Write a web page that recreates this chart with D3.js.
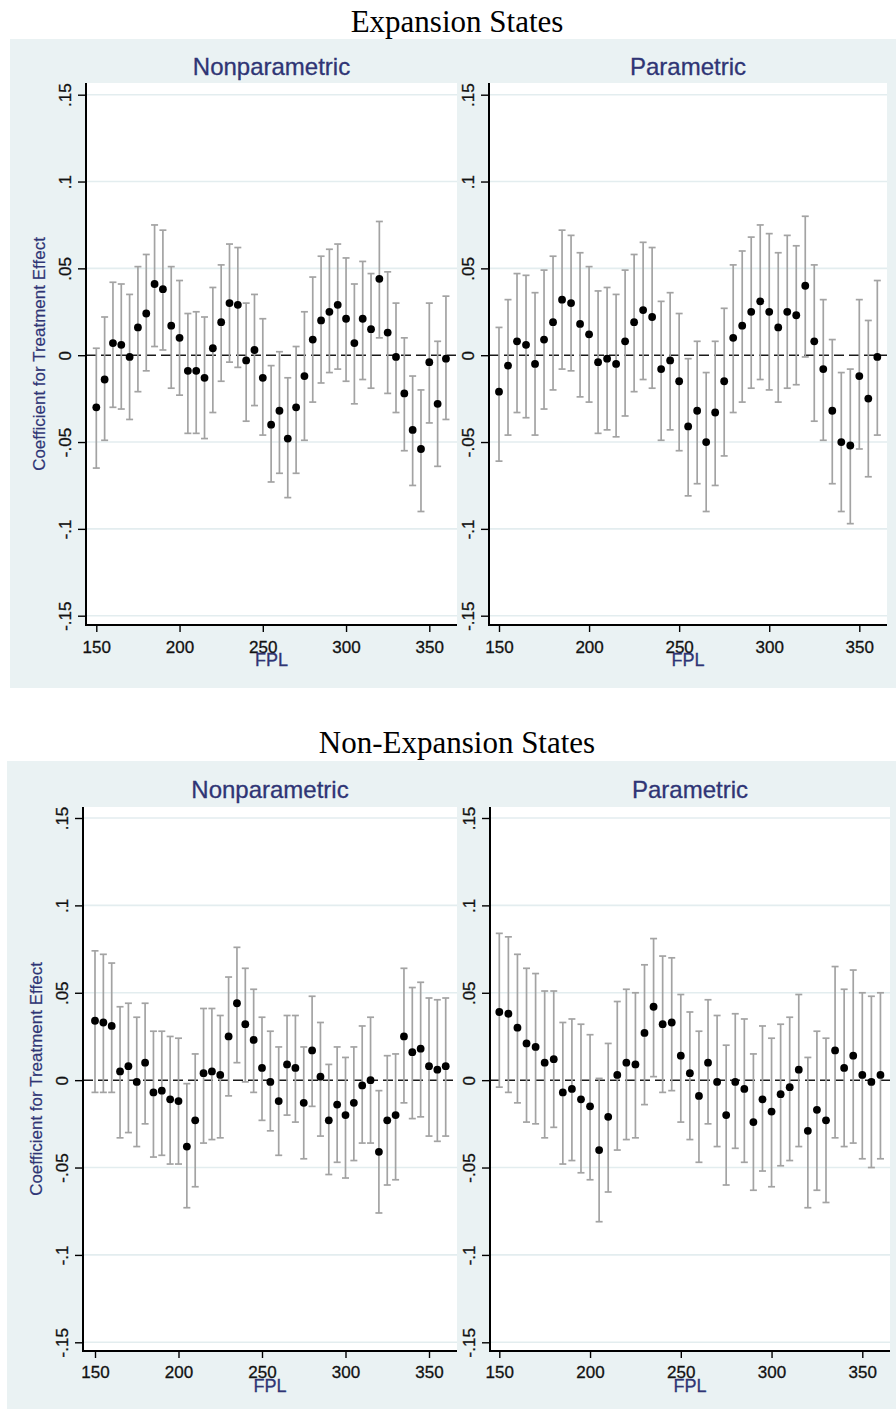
<!DOCTYPE html>
<html>
<head>
<meta charset="utf-8">
<script src="https://cdn.jsdelivr.net/npm/d3@7"></script>
<style>
  body { margin: 0; background: #fff; }
</style>
</head>
<body>
<div id="chart-area"></div>
<script>
// FPL bins (x categories)
var fpl = [150, 155, 160, 165, 170, 175, 180, 185, 190, 195, 200, 205, 210, 215, 220,
  225, 230, 235, 240, 245, 250, 255, 260, 265, 270, 275, 280, 285, 290, 295,
  300, 305, 310, 315, 320, 325, 330, 335, 340, 345, 350, 355, 360];

// Expansion states, nonparametric
var expNpEst = [-0.030, -0.014, 0.007, 0.006, -0.001, 0.016, 0.024, 0.041, 0.038, 0.017, 0.010, -0.009, -0.009, -0.013, 0.004,
  0.019, 0.030, 0.029, -0.003, 0.003, -0.013, -0.040, -0.032, -0.048, -0.030, -0.012, 0.009, 0.020, 0.025, 0.029,
  0.021, 0.007, 0.021, 0.015, 0.044, 0.013, -0.001, -0.022, -0.043, -0.054, -0.004, -0.028, -0.002];
var expNpLo = [-0.065, -0.049, -0.030, -0.031, -0.037, -0.021, -0.009, 0.005, 0.003, -0.019, -0.023, -0.045, -0.045, -0.048, -0.033,
  -0.015, -0.004, -0.007, -0.038, -0.029, -0.046, -0.073, -0.068, -0.082, -0.068, -0.049, -0.027, -0.016, -0.010, -0.008,
  -0.015, -0.028, -0.014, -0.019, 0.010, -0.022, -0.033, -0.055, -0.075, -0.090, -0.039, -0.064, -0.037];
var expNpHi = [0.004, 0.022, 0.042, 0.041, 0.035, 0.051, 0.058, 0.075, 0.072, 0.051, 0.043, 0.024, 0.025, 0.022, 0.039,
  0.052, 0.064, 0.062, 0.030, 0.035, 0.021, -0.006, 0.002, -0.013, 0.005, 0.025, 0.045, 0.057, 0.061, 0.064,
  0.056, 0.041, 0.054, 0.047, 0.077, 0.048, 0.030, 0.010, -0.012, -0.020, 0.030, 0.008, 0.034];

// Expansion states, parametric
var expPEst = [-0.021, -0.006, 0.008, 0.006, -0.005, 0.009, 0.019, 0.032, 0.030, 0.018, 0.012, -0.004, -0.002, -0.005, 0.008,
  0.019, 0.026, 0.022, -0.008, -0.003, -0.015, -0.041, -0.032, -0.050, -0.033, -0.015, 0.010, 0.017, 0.025, 0.031,
  0.025, 0.016, 0.025, 0.023, 0.040, 0.008, -0.008, -0.032, -0.050, -0.052, -0.012, -0.025, -0.001];
var expPLo = [-0.061, -0.046, -0.033, -0.036, -0.046, -0.031, -0.020, -0.008, -0.009, -0.024, -0.027, -0.045, -0.043, -0.047, -0.035,
  -0.021, -0.014, -0.019, -0.049, -0.043, -0.055, -0.081, -0.074, -0.090, -0.075, -0.058, -0.033, -0.027, -0.019, -0.014,
  -0.020, -0.027, -0.019, -0.017, -0.001, -0.038, -0.049, -0.074, -0.090, -0.097, -0.054, -0.070, -0.046];
var expPHi = [0.016, 0.032, 0.047, 0.046, 0.036, 0.049, 0.057, 0.072, 0.069, 0.059, 0.051, 0.037, 0.039, 0.035, 0.049,
  0.058, 0.065, 0.062, 0.031, 0.036, 0.024, -0.002, 0.008, -0.010, 0.008, 0.027, 0.052, 0.060, 0.068, 0.075,
  0.070, 0.059, 0.069, 0.063, 0.080, 0.052, 0.032, 0.009, -0.010, -0.008, 0.032, 0.020, 0.043];

// Non-expansion states, nonparametric
var nonNpEst = [0.034, 0.033, 0.031, 0.005, 0.008, -0.001, 0.010, -0.007, -0.006, -0.011, -0.012, -0.038, -0.023, 0.004, 0.005,
  0.003, 0.025, 0.044, 0.032, 0.023, 0.007, -0.001, -0.012, 0.009, 0.007, -0.013, 0.017, 0.002, -0.023, -0.014,
  -0.020, -0.013, -0.003, 0.000, -0.041, -0.023, -0.020, 0.025, 0.016, 0.018, 0.008, 0.006, 0.008];
var nonNpLo = [-0.007, -0.007, -0.007, -0.033, -0.030, -0.038, -0.025, -0.044, -0.043, -0.048, -0.048, -0.073, -0.061, -0.036, -0.034,
  -0.033, -0.009, 0.010, -0.001, -0.007, -0.023, -0.029, -0.043, -0.020, -0.024, -0.045, -0.015, -0.032, -0.054, -0.047,
  -0.056, -0.046, -0.036, -0.036, -0.076, -0.060, -0.057, -0.013, -0.022, -0.021, -0.032, -0.035, -0.032];
var nonNpHi = [0.074, 0.072, 0.067, 0.042, 0.044, 0.036, 0.044, 0.028, 0.028, 0.025, 0.024, -0.002, 0.015, 0.041, 0.041,
  0.037, 0.059, 0.076, 0.064, 0.052, 0.036, 0.028, 0.019, 0.037, 0.037, 0.019, 0.048, 0.033, 0.009, 0.019,
  0.013, 0.019, 0.031, 0.036, -0.006, 0.014, 0.015, 0.064, 0.053, 0.056, 0.047, 0.046, 0.047];

// Non-expansion states, parametric
var nonPEst = [0.039, 0.038, 0.030, 0.021, 0.019, 0.010, 0.012, -0.007, -0.005, -0.011, -0.015, -0.040, -0.021, 0.003, 0.010,
  0.009, 0.027, 0.042, 0.032, 0.033, 0.014, 0.004, -0.009, 0.010, -0.001, -0.020, -0.001, -0.005, -0.024, -0.011,
  -0.018, -0.008, -0.004, 0.006, -0.029, -0.017, -0.023, 0.017, 0.007, 0.014, 0.003, -0.001, 0.003];
var nonPLo = [-0.004, -0.007, -0.013, -0.024, -0.025, -0.033, -0.027, -0.048, -0.046, -0.053, -0.057, -0.081, -0.064, -0.040, -0.034,
  -0.033, -0.014, 0.002, -0.007, -0.006, -0.024, -0.034, -0.047, -0.025, -0.038, -0.060, -0.039, -0.047, -0.063, -0.052,
  -0.061, -0.049, -0.046, -0.038, -0.073, -0.063, -0.070, -0.033, -0.038, -0.036, -0.045, -0.050, -0.045];
var nonPHi = [0.084, 0.082, 0.072, 0.064, 0.061, 0.051, 0.051, 0.033, 0.035, 0.032, 0.026, 0.001, 0.021, 0.045, 0.052,
  0.050, 0.066, 0.081, 0.071, 0.070, 0.049, 0.039, 0.028, 0.046, 0.037, 0.020, 0.038, 0.035, 0.015, 0.031,
  0.024, 0.032, 0.036, 0.049, 0.013, 0.028, 0.024, 0.065, 0.052, 0.063, 0.050, 0.048, 0.050];

// ticks
var xTicks = [150, 200, 250, 300, 350];
var yTicks = [-0.15, -0.1, -0.05, 0, 0.05, 0.1, 0.15];
var yTickLabels = ["-.15", "-.1", "-.05", "0", ".05", ".1", ".15"];

var sans = "'Liberation Sans', Arial, sans-serif";
var serif = "'Liberation Serif', 'Times New Roman', serif";
var navy = "#2f3575";

var svg = d3.select("#chart-area").append("svg")
    .attr("width", 896)
    .attr("height", 1409);

// layout of the two stata figures
var figures = [
  {
    title: "Expansion States", titleY: 32,
    bgX: 10, bgY: 39, bgBottom: 688,
    top: 83, bottom: 625, yHi: 94.7, yLo: 615.7,
    subY: 75, labelY: 653, fplY: 666,
    panels: [
      {name: "Nonparametric", est: expNpEst, lo: expNpLo, hi: expNpHi, left: 86, right: 457, x150: 96.3, x350: 429.3, yTitle: true},
      {name: "Parametric", est: expPEst, lo: expPLo, hi: expPHi, left: 489, right: 887, x150: 499, x350: 859.3, yTitle: false}
    ]
  },
  {
    title: "Non-Expansion States", titleY: 753,
    bgX: 7, bgY: 761, bgBottom: 1409,
    top: 807, bottom: 1351, yHi: 818, yLo: 1342.3,
    subY: 798, labelY: 1378, fplY: 1392,
    panels: [
      {name: "Nonparametric", est: nonNpEst, lo: nonNpLo, hi: nonNpHi, left: 83, right: 457, x150: 95, x350: 429, yTitle: true},
      {name: "Parametric", est: nonPEst, lo: nonPLo, hi: nonPHi, left: 490, right: 890, x150: 499.3, x350: 862.3, yTitle: false}
    ]
  }
];

figures.forEach(function(fig) {
  svg.append("rect")
    .attr("x", fig.bgX)
    .attr("y", fig.bgY)
    .attr("width", 896 - fig.bgX)
    .attr("height", fig.bgBottom - fig.bgY)
    .attr("fill", "#eaf2f3");

  svg.append("text")
    .attr("x", 457)
    .attr("y", fig.titleY)
    .attr("text-anchor", "middle")
    .attr("font-family", serif)
    .attr("font-size", "31px")
    .attr("fill", "#000")
    .text(fig.title);

  fig.panels.forEach(function(p) {
    drawPanel(fig, p);
  });
});

function drawPanel(fig, p) {
  var x = d3.scaleLinear()
    .domain([150, 350])
    .range([p.x150, p.x350]);

  var y = d3.scaleLinear()
    .domain([-0.15, 0.15])
    .range([fig.yLo, fig.yHi]);

  var g = svg.append("g");
  var cx = (p.left + p.right) / 2;

  // plot region
  g.append("rect")
    .attr("x", p.left)
    .attr("y", fig.top)
    .attr("width", p.right - p.left)
    .attr("height", fig.bottom - fig.top)
    .attr("fill", "#fff");

  // subtitle
  g.append("text")
    .attr("x", cx)
    .attr("y", fig.subY)
    .attr("text-anchor", "middle")
    .attr("font-family", sans)
    .attr("font-size", "24px")
    .attr("fill", navy)
    .attr("stroke", navy)
    .attr("stroke-width", 0.3)
    .text(p.name);

  // grid lines
  g.selectAll("line.grid")
    .data(yTicks.filter(d => d !== 0))
    .enter().append("line")
      .attr("class", "grid")
      .attr("x1", p.left)
      .attr("x2", p.right)
      .attr("y1", d => y(d))
      .attr("y2", d => y(d))
      .attr("stroke", "#e3edef")
      .attr("stroke-width", 1.6);

  // zero reference line
  g.append("line")
    .attr("x1", p.left)
    .attr("x2", p.right)
    .attr("y1", y(0))
    .attr("y2", y(0))
    .attr("stroke", "#1a1a1a")
    .attr("stroke-width", 1.5)
    .attr("stroke-dasharray", "10,5");

  var data = fpl.map((d, i) => {
    return {fpl: d, est: p.est[i], lo: p.lo[i], hi: p.hi[i]};
  });

  // confidence intervals
  var bars = g.selectAll("g.ci")
    .data(data)
    .enter().append("g")
      .attr("class", "ci")
      .attr("stroke", "#a3a3a3")
      .attr("stroke-width", 1.7);

  bars.append("line")
    .attr("x1", d => x(d.fpl))
    .attr("x2", d => x(d.fpl))
    .attr("y1", d => y(d.lo))
    .attr("y2", d => y(d.hi));

  bars.append("line")
    .attr("x1", d => x(d.fpl) - 3.5)
    .attr("x2", d => x(d.fpl) + 3.5)
    .attr("y1", d => y(d.hi))
    .attr("y2", d => y(d.hi));

  bars.append("line")
    .attr("x1", d => x(d.fpl) - 3.5)
    .attr("x2", d => x(d.fpl) + 3.5)
    .attr("y1", d => y(d.lo))
    .attr("y2", d => y(d.lo));

  // point estimates
  g.selectAll("circle")
    .data(data)
    .enter().append("circle")
      .attr("cx", d => x(d.fpl))
      .attr("cy", d => y(d.est))
      .attr("r", 3.9)
      .attr("fill", "#000");

  // Y axis
  var yAxisCall = d3.axisLeft(y)
    .tickValues(yTicks)
    .tickFormat((d, i) => yTickLabels[i])
    .tickSize(8)
    .tickSizeOuter(0);

  var yAxisGroup = g.append("g")
    .attr("transform", "translate(" + p.left + ",0)")
    .call(yAxisCall);

  yAxisGroup.select(".domain").remove();
  yAxisGroup.selectAll(".tick line")
    .attr("stroke", "#000")
    .attr("stroke-width", 1.4);
  yAxisGroup.selectAll(".tick text")
    .attr("x", null)
    .attr("dy", null)
    .attr("transform", "translate(-15,0) rotate(-90)")
    .attr("text-anchor", "middle")
    .attr("font-family", sans)
    .attr("font-size", "17px")
    .attr("fill", "#111")
    .attr("stroke", "#111")
    .attr("stroke-width", 0.3);

  g.append("line")
    .attr("x1", p.left)
    .attr("x2", p.left)
    .attr("y1", fig.top)
    .attr("y2", fig.bottom)
    .attr("stroke", "#000")
    .attr("stroke-width", 2);

  // X axis
  var xAxisCall = d3.axisBottom(x)
    .tickValues(xTicks)
    .tickSize(7)
    .tickSizeOuter(0);

  var xAxisGroup = g.append("g")
    .attr("transform", "translate(0," + fig.bottom + ")")
    .call(xAxisCall);

  xAxisGroup.select(".domain").remove();
  xAxisGroup.selectAll(".tick line")
    .attr("stroke", "#000")
    .attr("stroke-width", 1.4);
  xAxisGroup.selectAll(".tick text")
    .attr("y", fig.labelY - fig.bottom)
    .attr("dy", null)
    .attr("font-family", sans)
    .attr("font-size", "17px")
    .attr("fill", "#111")
    .attr("stroke", "#111")
    .attr("stroke-width", 0.3);

  g.append("line")
    .attr("x1", p.left - 1)
    .attr("x2", p.right)
    .attr("y1", fig.bottom)
    .attr("y2", fig.bottom)
    .attr("stroke", "#000")
    .attr("stroke-width", 2);

  // X label (overlaps the 250 tick label, as in the original)
  g.append("text")
    .attr("x", cx)
    .attr("y", fig.fplY)
    .attr("text-anchor", "middle")
    .attr("font-family", sans)
    .attr("font-size", "18px")
    .attr("fill", navy)
    .attr("stroke", navy)
    .attr("stroke-width", 0.3)
    .text("FPL");

  // Y label
  if (p.yTitle) {
    g.append("text")
      .attr("transform", "translate(" + (p.left - 41) + "," + ((fig.top + fig.bottom) / 2) + ") rotate(-90)")
      .attr("text-anchor", "middle")
      .attr("font-family", sans)
      .attr("font-size", "17px")
      .attr("fill", navy)
      .attr("stroke", navy)
      .attr("stroke-width", 0.2)
      .text("Coefficient for Treatment Effect");
  }
}
</script>
</body>
</html>
